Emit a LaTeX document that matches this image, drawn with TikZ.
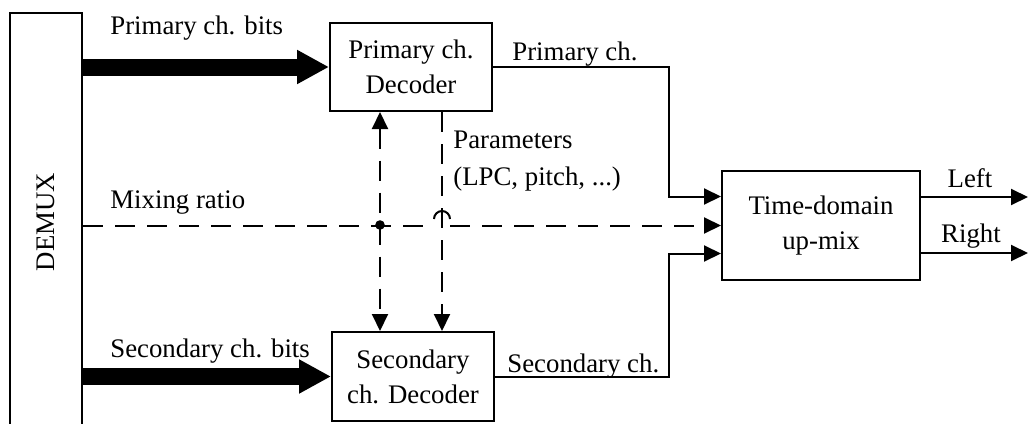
\documentclass[tikz,border=0pt]{standalone}
\usepackage{fontspec}
\setmainfont{Liberation Serif}
\usetikzlibrary{arrows.meta}
\newcommand\diagfont{\fontsize{13.4pt}{17.5pt}\selectfont}
\begin{document}
\begin{tikzpicture}[x=0.5pt,y=-0.5pt,
  box/.style={draw,line width=1pt,align=center,inner sep=0pt,font=\diagfont},
  lbl/.style={inner sep=0pt,anchor=base west,font=\diagfont},
  clbl/.style={inner sep=0pt,anchor=base,font=\diagfont},
  conn/.style={line width=1pt,-{Triangle[length=8.5pt,width=8pt]}},
  dsh/.style={line width=1pt,dash pattern=on 10pt off 6pt},
  fat/.style={line width=8.5pt,-{Triangle[length=16pt,width=16pt]}}]
\useasboundingbox (0,0) rectangle (1028,423);
\clip (0,0) rectangle (1028,423);

% blocks
\node[box,minimum width=36pt,minimum height=214pt] (demux) at (46,227) {};
\node[font=\diagfont,rotate=90,inner sep=0pt] (demuxtxt) at (46,222) {DEMUX};
\node[box,minimum width=81pt,minimum height=44pt] (pd) at (411,67) {Primary ch.\\Decoder};
\node[box,minimum width=81pt,minimum height=44.5pt] (sd) at (413,376.5) {Secondary\\ch. Decoder};
\node[box,minimum width=99pt,minimum height=54.5pt] (up) at (821,225.5) {Time-domain\\up-mix};

% helper coordinates
\coordinate (in1) at ([yshift=14.5pt]up.west);
\coordinate (in2) at (up.west);
\coordinate (in3) at ([yshift=-14pt]up.west);
\coordinate (k1) at (669,0);
\coordinate (dot) at (380,225);
\coordinate (par) at (442,225);
\coordinate (hopL) at (434,219);
\coordinate (hopR) at (450,219);
\coordinate (outL) at (1028,197);
\coordinate (outR) at (1028,253);

% thick bit streams
\draw[fat] (demux.east |- pd.west) -- (pd.west);
\draw[fat] (demux.east |- sd.west) -- (sd.west);

% decoded channels
\draw[conn] (pd.east) -| (k1 |- in1) -- (in1);
\draw[conn] (sd.east) -| (k1 |- in3) -- (in3);

% mixing ratio
\draw[dsh] (demux.east |- in2) -- (hopL |- in2);
\draw[line width=1pt] (hopL) arc[start angle=180,end angle=360,radius=8];
\draw[dsh,-{Triangle[length=8.5pt,width=8pt]}] (hopR |- in2) -- (in2);
\fill (dot) circle (2.4pt);

% parameter links
\draw[dsh,{Triangle[length=8.5pt,width=8pt]}-{Triangle[length=8.5pt,width=8pt]}] (dot |- pd.south) -- (dot |- sd.north);
\draw[dsh,-{Triangle[length=8.5pt,width=8pt]}] (par |- pd.south) -- (par |- sd.north);

% outputs
\draw[conn] (up.east |- outL) -- (outL);
\draw[conn] (up.east |- outR) -- (outR);

% labels
\node[lbl] (l1) at (110,34) {Primary ch. bits};
\node[lbl] (l2) at (110,208) {Mixing ratio};
\node[lbl] (l3) at (110,357) {Secondary ch. bits};
\node[lbl] (l4) at (512,60) {Primary ch.};
\node[lbl] (l5) at (507,372) {Secondary ch.};
\node[lbl] (l6) at (453,148) {Parameters};
\node[lbl] (l7) at (453,185) {(LPC, pitch, ...)};
\node[clbl] (l8) at (970,187) {Left};
\node[clbl] (l9) at (971,242) {Right};
\end{tikzpicture}
\end{document}
